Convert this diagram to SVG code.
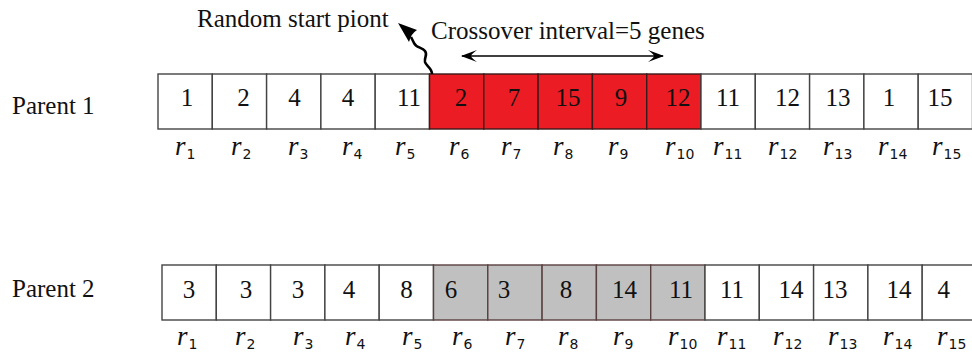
<svg xmlns="http://www.w3.org/2000/svg" width="972" height="354" viewBox="0 0 972 354">
<defs>
<style>
.t{font-family:"Liberation Serif","Times New Roman",serif;font-size:25px;fill:#111}
.n{font-family:"Liberation Serif","Times New Roman",serif;font-size:25px;fill:#111;text-anchor:middle}
.c{stroke:#444;stroke-width:1.4}
.w{fill:#fff}
.red{fill:#ec1c24;stroke:#3a1a1a}
.g{fill:#c0c0c0;stroke:#5a4040}
.r{font-family:"Liberation Serif","Times New Roman",serif;font-style:italic;font-size:27px;fill:#111}
.s{font-family:"DejaVu Sans","Noto Sans",sans-serif;font-style:normal;font-size:14px}
</style>
<marker id="ah" viewBox="0 0 16 12" refX="15" refY="6" markerWidth="16" markerHeight="12" markerUnits="userSpaceOnUse" orient="auto-start-reverse">
<path d="M16,6 Q8,3 0,0 Q6,4.5 6,6 Q6,7.5 0,12 Q8,9 16,6 Z" fill="#000"/>
</marker>
</defs>
<rect width="972" height="354" fill="#fff"/>
<text class="t" x="12" y="114">Parent 1</text>
<text class="t" x="12" y="297">Parent 2</text>
<text class="t" x="197" y="27">Random start piont</text>
<text class="t" x="431" y="39">Crossover interval=5 genes</text>

<g id="parent1">
<g id="p1c1"><rect class="c w" x="158" y="74" width="54.3" height="55"/><text class="n" x="187" y="106">1</text></g>
<g id="p1c2"><rect class="c w" x="212.3" y="74" width="54.3" height="55"/><text class="n" x="243.5" y="106">2</text></g>
<g id="p1c3"><rect class="c w" x="266.6" y="74" width="54.3" height="55"/><text class="n" x="294.5" y="106">4</text></g>
<g id="p1c4"><rect class="c w" x="320.9" y="74" width="54.3" height="55"/><text class="n" x="348" y="106">4</text></g>
<g id="p1c5"><rect class="c w" x="375.2" y="74" width="54.3" height="55"/><text class="n" x="409" y="106">11</text></g>
<g id="p1c6"><rect class="c red" x="429.5" y="74" width="54.3" height="55"/><text class="n" x="461" y="106">2</text></g>
<g id="p1c7"><rect class="c red" x="483.8" y="74" width="54.3" height="55"/><text class="n" x="514" y="106">7</text></g>
<g id="p1c8"><rect class="c red" x="538.1" y="74" width="54.3" height="55"/><text class="n" x="568" y="106">15</text></g>
<g id="p1c9"><rect class="c red" x="592.4" y="74" width="54.3" height="55"/><text class="n" x="621" y="106">9</text></g>
<g id="p1c10"><rect class="c red" x="646.7" y="74" width="54.3" height="55"/><text class="n" x="678" y="106">12</text></g>
<g id="p1c11"><rect class="c w" x="701" y="74" width="54.3" height="55"/><text class="n" x="728" y="106">11</text></g>
<g id="p1c12"><rect class="c w" x="755.3" y="74" width="54.3" height="55"/><text class="n" x="787.5" y="106">12</text></g>
<g id="p1c13"><rect class="c w" x="809.6" y="74" width="54.3" height="55"/><text class="n" x="838" y="106">13</text></g>
<g id="p1c14"><rect class="c w" x="863.9" y="74" width="54.3" height="55"/><text class="n" x="889" y="106">1</text></g>
<g id="p1c15"><rect class="c w" x="918.2" y="74" width="54.3" height="55"/><text class="n" x="940" y="106">15</text></g>
</g>

<g id="parent2">
<g id="p2c1"><rect class="c w" x="162" y="265" width="54.3" height="55"/><text class="n" x="189" y="298">3</text></g>
<g id="p2c2"><rect class="c w" x="216.3" y="265" width="54.3" height="55"/><text class="n" x="246" y="298">3</text></g>
<g id="p2c3"><rect class="c w" x="270.6" y="265" width="54.3" height="55"/><text class="n" x="298" y="298">3</text></g>
<g id="p2c4"><rect class="c w" x="324.9" y="265" width="54.3" height="55"/><text class="n" x="349" y="298">4</text></g>
<g id="p2c5"><rect class="c w" x="379.2" y="265" width="54.3" height="55"/><text class="n" x="406.5" y="298">8</text></g>
<g id="p2c6"><rect class="c g" x="433.5" y="265" width="54.3" height="55"/><text class="n" x="451" y="298">6</text></g>
<g id="p2c7"><rect class="c g" x="487.8" y="265" width="54.3" height="55"/><text class="n" x="504" y="298">3</text></g>
<g id="p2c8"><rect class="c g" x="542.1" y="265" width="54.3" height="55"/><text class="n" x="566" y="298">8</text></g>
<g id="p2c9"><rect class="c g" x="596.4" y="265" width="54.3" height="55"/><text class="n" x="624.5" y="298">14</text></g>
<g id="p2c10"><rect class="c g" x="650.7" y="265" width="54.3" height="55"/><text class="n" x="681" y="298">11</text></g>
<g id="p2c11"><rect class="c w" x="705" y="265" width="54.3" height="55"/><text class="n" x="732" y="298">11</text></g>
<g id="p2c12"><rect class="c w" x="759.3" y="265" width="54.3" height="55"/><text class="n" x="791" y="298">14</text></g>
<g id="p2c13"><rect class="c w" x="813.6" y="265" width="54.3" height="55"/><text class="n" x="835" y="298">13</text></g>
<g id="p2c14"><rect class="c w" x="867.9" y="265" width="54.3" height="55"/><text class="n" x="899" y="298">14</text></g>
<g id="p2c15"><rect class="c w" x="922.2" y="265" width="54.3" height="55"/><text class="n" x="943.7" y="298">4</text></g>
</g>

<g id="labels1">
<text class="r" x="175" y="155">r<tspan class="s" dx="1" dy="4">1</tspan></text>
<text class="r" x="231" y="155">r<tspan class="s" dx="1" dy="4">2</tspan></text>
<text class="r" x="288" y="155">r<tspan class="s" dx="1" dy="4">3</tspan></text>
<text class="r" x="342" y="155">r<tspan class="s" dx="1" dy="4">4</tspan></text>
<text class="r" x="395" y="155">r<tspan class="s" dx="1" dy="4">5</tspan></text>
<text class="r" x="449" y="155">r<tspan class="s" dx="1" dy="4">6</tspan></text>
<text class="r" x="501" y="155">r<tspan class="s" dx="1" dy="4">7</tspan></text>
<text class="r" x="553" y="155">r<tspan class="s" dx="1" dy="4">8</tspan></text>
<text class="r" x="608" y="155">r<tspan class="s" dx="1" dy="4">9</tspan></text>
<text class="r" x="665" y="155">r<tspan class="s" dx="1" dy="4">10</tspan></text>
<text class="r" x="713" y="155">r<tspan class="s" dx="1" dy="4">11</tspan></text>
<text class="r" x="768" y="155">r<tspan class="s" dx="1" dy="4">12</tspan></text>
<text class="r" x="823" y="155">r<tspan class="s" dx="1" dy="4">13</tspan></text>
<text class="r" x="878" y="155">r<tspan class="s" dx="1" dy="4">14</tspan></text>
<text class="r" x="932" y="155">r<tspan class="s" dx="1" dy="4">15</tspan></text>
</g>
<g id="labels2">
<text class="r" x="177" y="345">r<tspan class="s" dx="1" dy="4">1</tspan></text>
<text class="r" x="235" y="345">r<tspan class="s" dx="1" dy="4">2</tspan></text>
<text class="r" x="293" y="345">r<tspan class="s" dx="1" dy="4">3</tspan></text>
<text class="r" x="345" y="345">r<tspan class="s" dx="1" dy="4">4</tspan></text>
<text class="r" x="402" y="345">r<tspan class="s" dx="1" dy="4">5</tspan></text>
<text class="r" x="452" y="345">r<tspan class="s" dx="1" dy="4">6</tspan></text>
<text class="r" x="505" y="345">r<tspan class="s" dx="1" dy="4">7</tspan></text>
<text class="r" x="558" y="345">r<tspan class="s" dx="1" dy="4">8</tspan></text>
<text class="r" x="613" y="345">r<tspan class="s" dx="1" dy="4">9</tspan></text>
<text class="r" x="668" y="345">r<tspan class="s" dx="1" dy="4">10</tspan></text>
<text class="r" x="717" y="345">r<tspan class="s" dx="1" dy="4">11</tspan></text>
<text class="r" x="773" y="345">r<tspan class="s" dx="1" dy="4">12</tspan></text>
<text class="r" x="828" y="345">r<tspan class="s" dx="1" dy="4">13</tspan></text>
<text class="r" x="883" y="345">r<tspan class="s" dx="1" dy="4">14</tspan></text>
<text class="r" x="937" y="345">r<tspan class="s" dx="1" dy="4">15</tspan></text>
</g>

<g id="connectors">
<line x1="462" y1="56" x2="663" y2="56" stroke="#000" stroke-width="1.6" marker-start="url(#ah)" marker-end="url(#ah)"/>
<path d="M432,74 C432,68 426,66 425,62 C424,57 428,55 425,51 C422,47 416,48 414,43 L411,37" fill="none" stroke="#000" stroke-width="2.6"/>
<path d="M398,23 L417,30 Q411.5,33 409,42 Z" fill="#000"/>
</g>
</svg>
